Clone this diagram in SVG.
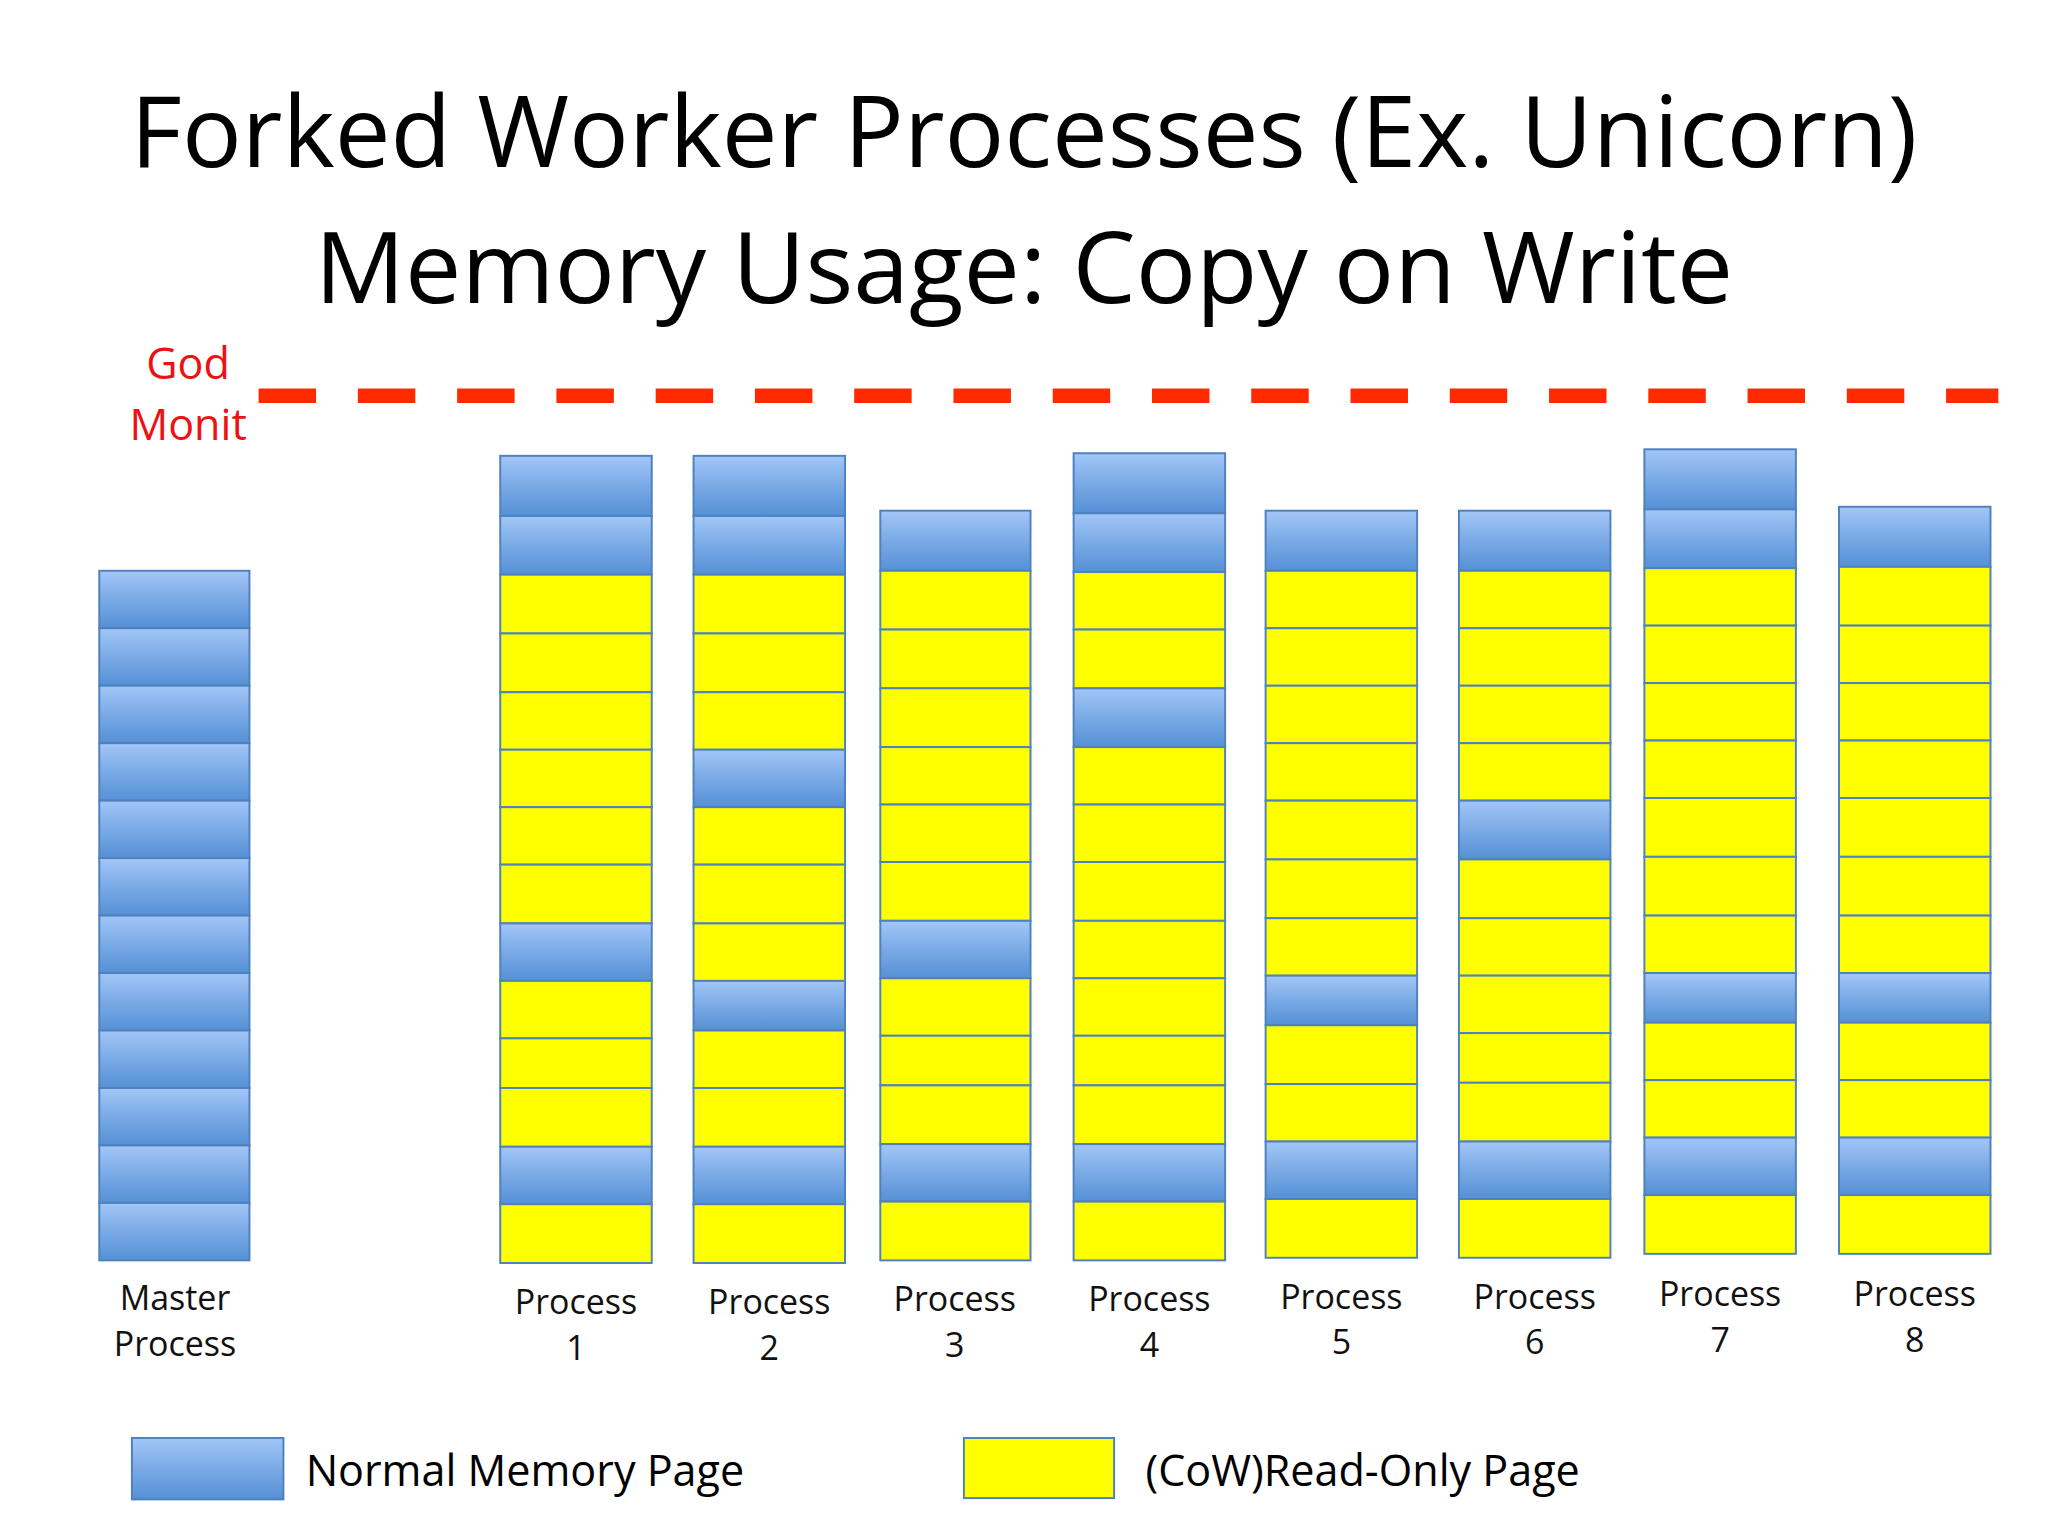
<svg xmlns="http://www.w3.org/2000/svg" width="2048" height="1536" viewBox="0 0 2048 1536">
<style>
.t{font-family:"Open Sans","Liberation Sans",sans-serif;fill:#000}
.r{font-family:"Open Sans","Liberation Sans",sans-serif;fill:#ee1111;font-size:33px;text-anchor:middle}
.l{font-family:"Open Sans","Liberation Sans",sans-serif;fill:#111;font-size:26px;text-anchor:middle}
.b{fill:url(#bg);stroke:#4f81bd;stroke-width:1.5}
.y{fill:#ffff00;stroke:#4f81bd;stroke-width:1.5}
</style>
<defs>
<linearGradient id="bg" x1="0" y1="0" x2="0" y2="1">
<stop offset="0" stop-color="#a3c6f7"/><stop offset="0.5" stop-color="#7aaae6"/><stop offset="1" stop-color="#5590d6"/>
</linearGradient>
</defs>
<rect width="2048" height="1536" fill="#ffffff"/>
<g transform="scale(1.3061)">
<g id="title">
<text class="t" x="784" y="128" font-size="76" text-anchor="middle" textLength="1368" lengthAdjust="spacingAndGlyphs">Forked Worker Processes (Ex. Unicorn)</text>
<text class="t" x="784" y="232" font-size="76" text-anchor="middle" textLength="1086" lengthAdjust="spacingAndGlyphs">Memory Usage: Copy on Write</text>
</g>
<g id="godmonit">
<text class="r" x="144" y="290">God</text>
<text class="r" x="144" y="337">Monit</text>
<line x1="198" y1="303" x2="1530" y2="303" stroke="#ff2a00" stroke-width="11" stroke-dasharray="44 32"/>
</g>
<g id="master">
<rect class="b" x="76" y="437" width="115" height="44"/><rect class="b" x="76" y="481" width="115" height="44"/><rect class="b" x="76" y="525" width="115" height="44"/><rect class="b" x="76" y="569" width="115" height="44"/><rect class="b" x="76" y="613" width="115" height="44"/><rect class="b" x="76" y="657" width="115" height="44"/><rect class="b" x="76" y="701" width="115" height="44"/><rect class="b" x="76" y="745" width="115" height="44"/><rect class="b" x="76" y="789" width="115" height="44"/><rect class="b" x="76" y="833" width="115" height="44"/><rect class="b" x="76" y="877" width="115" height="44"/><rect class="b" x="76" y="921" width="115" height="44"/>
<text class="l" x="134" y="1003">Master</text><text class="l" x="134" y="1038">Process</text>
</g>
<g id="p1">
<rect class="b" x="383" y="349" width="116" height="46"/><rect class="b" x="383" y="395" width="116" height="45"/><rect class="y" x="383" y="440" width="116" height="45"/><rect class="y" x="383" y="485" width="116" height="45"/><rect class="y" x="383" y="530" width="116" height="44"/><rect class="y" x="383" y="574" width="116" height="44"/><rect class="y" x="383" y="618" width="116" height="44"/><rect class="y" x="383" y="662" width="116" height="45"/><rect class="b" x="383" y="707" width="116" height="44"/><rect class="y" x="383" y="751" width="116" height="44"/><rect class="y" x="383" y="795" width="116" height="38"/><rect class="y" x="383" y="833" width="116" height="45"/><rect class="b" x="383" y="878" width="116" height="44"/><rect class="y" x="383" y="922" width="116" height="45"/>
<text class="l" x="441" y="1006">Process</text><text class="l" x="441" y="1041">1</text>
</g>
<g id="p2">
<rect class="b" x="531" y="349" width="116" height="46"/><rect class="b" x="531" y="395" width="116" height="45"/><rect class="y" x="531" y="440" width="116" height="45"/><rect class="y" x="531" y="485" width="116" height="45"/><rect class="y" x="531" y="530" width="116" height="44"/><rect class="b" x="531" y="574" width="116" height="44"/><rect class="y" x="531" y="618" width="116" height="44"/><rect class="y" x="531" y="662" width="116" height="45"/><rect class="y" x="531" y="707" width="116" height="44"/><rect class="b" x="531" y="751" width="116" height="38"/><rect class="y" x="531" y="789" width="116" height="44"/><rect class="y" x="531" y="833" width="116" height="45"/><rect class="b" x="531" y="878" width="116" height="44"/><rect class="y" x="531" y="922" width="116" height="45"/>
<text class="l" x="589" y="1006">Process</text><text class="l" x="589" y="1041">2</text>
</g>
<g id="p3">
<rect class="b" x="674" y="391" width="115" height="46"/><rect class="y" x="674" y="437" width="115" height="45"/><rect class="y" x="674" y="482" width="115" height="45"/><rect class="y" x="674" y="527" width="115" height="45"/><rect class="y" x="674" y="572" width="115" height="44"/><rect class="y" x="674" y="616" width="115" height="44"/><rect class="y" x="674" y="660" width="115" height="45"/><rect class="b" x="674" y="705" width="115" height="44"/><rect class="y" x="674" y="749" width="115" height="44"/><rect class="y" x="674" y="793" width="115" height="38"/><rect class="y" x="674" y="831" width="115" height="45"/><rect class="b" x="674" y="876" width="115" height="44"/><rect class="y" x="674" y="920" width="115" height="45"/>
<text class="l" x="731" y="1004">Process</text><text class="l" x="731" y="1039">3</text>
</g>
<g id="p4">
<rect class="b" x="822" y="347" width="116" height="46"/><rect class="b" x="822" y="393" width="116" height="45"/><rect class="y" x="822" y="438" width="116" height="44"/><rect class="y" x="822" y="482" width="116" height="45"/><rect class="b" x="822" y="527" width="116" height="45"/><rect class="y" x="822" y="572" width="116" height="44"/><rect class="y" x="822" y="616" width="116" height="44"/><rect class="y" x="822" y="660" width="116" height="45"/><rect class="y" x="822" y="705" width="116" height="44"/><rect class="y" x="822" y="749" width="116" height="44"/><rect class="y" x="822" y="793" width="116" height="38"/><rect class="y" x="822" y="831" width="116" height="45"/><rect class="b" x="822" y="876" width="116" height="44"/><rect class="y" x="822" y="920" width="116" height="45"/>
<text class="l" x="880" y="1004">Process</text><text class="l" x="880" y="1039">4</text>
</g>
<g id="p5">
<rect class="b" x="969" y="391" width="116" height="46"/><rect class="y" x="969" y="437" width="116" height="44"/><rect class="y" x="969" y="481" width="116" height="44"/><rect class="y" x="969" y="525" width="116" height="44"/><rect class="y" x="969" y="569" width="116" height="44"/><rect class="y" x="969" y="613" width="116" height="45"/><rect class="y" x="969" y="658" width="116" height="45"/><rect class="y" x="969" y="703" width="116" height="44"/><rect class="b" x="969" y="747" width="116" height="38"/><rect class="y" x="969" y="785" width="116" height="45"/><rect class="y" x="969" y="830" width="116" height="44"/><rect class="b" x="969" y="874" width="116" height="44"/><rect class="y" x="969" y="918" width="116" height="45"/>
<text class="l" x="1027" y="1002">Process</text><text class="l" x="1027" y="1037">5</text>
</g>
<g id="p6">
<rect class="b" x="1117" y="391" width="116" height="46"/><rect class="y" x="1117" y="437" width="116" height="44"/><rect class="y" x="1117" y="481" width="116" height="44"/><rect class="y" x="1117" y="525" width="116" height="44"/><rect class="y" x="1117" y="569" width="116" height="44"/><rect class="b" x="1117" y="613" width="116" height="45"/><rect class="y" x="1117" y="658" width="116" height="45"/><rect class="y" x="1117" y="703" width="116" height="44"/><rect class="y" x="1117" y="747" width="116" height="44"/><rect class="y" x="1117" y="791" width="116" height="38"/><rect class="y" x="1117" y="829" width="116" height="45"/><rect class="b" x="1117" y="874" width="116" height="44"/><rect class="y" x="1117" y="918" width="116" height="45"/>
<text class="l" x="1175" y="1002">Process</text><text class="l" x="1175" y="1037">6</text>
</g>
<g id="p7">
<rect class="b" x="1259" y="344" width="116" height="46"/><rect class="b" x="1259" y="390" width="116" height="45"/><rect class="y" x="1259" y="435" width="116" height="44"/><rect class="y" x="1259" y="479" width="116" height="44"/><rect class="y" x="1259" y="523" width="116" height="44"/><rect class="y" x="1259" y="567" width="116" height="44"/><rect class="y" x="1259" y="611" width="116" height="45"/><rect class="y" x="1259" y="656" width="116" height="45"/><rect class="y" x="1259" y="701" width="116" height="44"/><rect class="b" x="1259" y="745" width="116" height="38"/><rect class="y" x="1259" y="783" width="116" height="44"/><rect class="y" x="1259" y="827" width="116" height="44"/><rect class="b" x="1259" y="871" width="116" height="44"/><rect class="y" x="1259" y="915" width="116" height="45"/>
<text class="l" x="1317" y="1000">Process</text><text class="l" x="1317" y="1035">7</text>
</g>
<g id="p8">
<rect class="b" x="1408" y="388" width="116" height="46"/><rect class="y" x="1408" y="434" width="116" height="45"/><rect class="y" x="1408" y="479" width="116" height="44"/><rect class="y" x="1408" y="523" width="116" height="44"/><rect class="y" x="1408" y="567" width="116" height="44"/><rect class="y" x="1408" y="611" width="116" height="45"/><rect class="y" x="1408" y="656" width="116" height="45"/><rect class="y" x="1408" y="701" width="116" height="44"/><rect class="b" x="1408" y="745" width="116" height="38"/><rect class="y" x="1408" y="783" width="116" height="44"/><rect class="y" x="1408" y="827" width="116" height="44"/><rect class="b" x="1408" y="871" width="116" height="44"/><rect class="y" x="1408" y="915" width="116" height="45"/>
<text class="l" x="1466" y="1000">Process</text><text class="l" x="1466" y="1035">8</text>
</g>
<g id="legend">
<rect class="b" x="101" y="1101" width="116" height="47"/>
<text class="t" x="234" y="1138" font-size="33">Normal Memory Page</text>
<rect class="y" x="738" y="1101" width="115" height="46"/>
<text class="t" x="877" y="1138" font-size="33">(CoW)Read-Only Page</text>
</g>
</g>
</svg>
